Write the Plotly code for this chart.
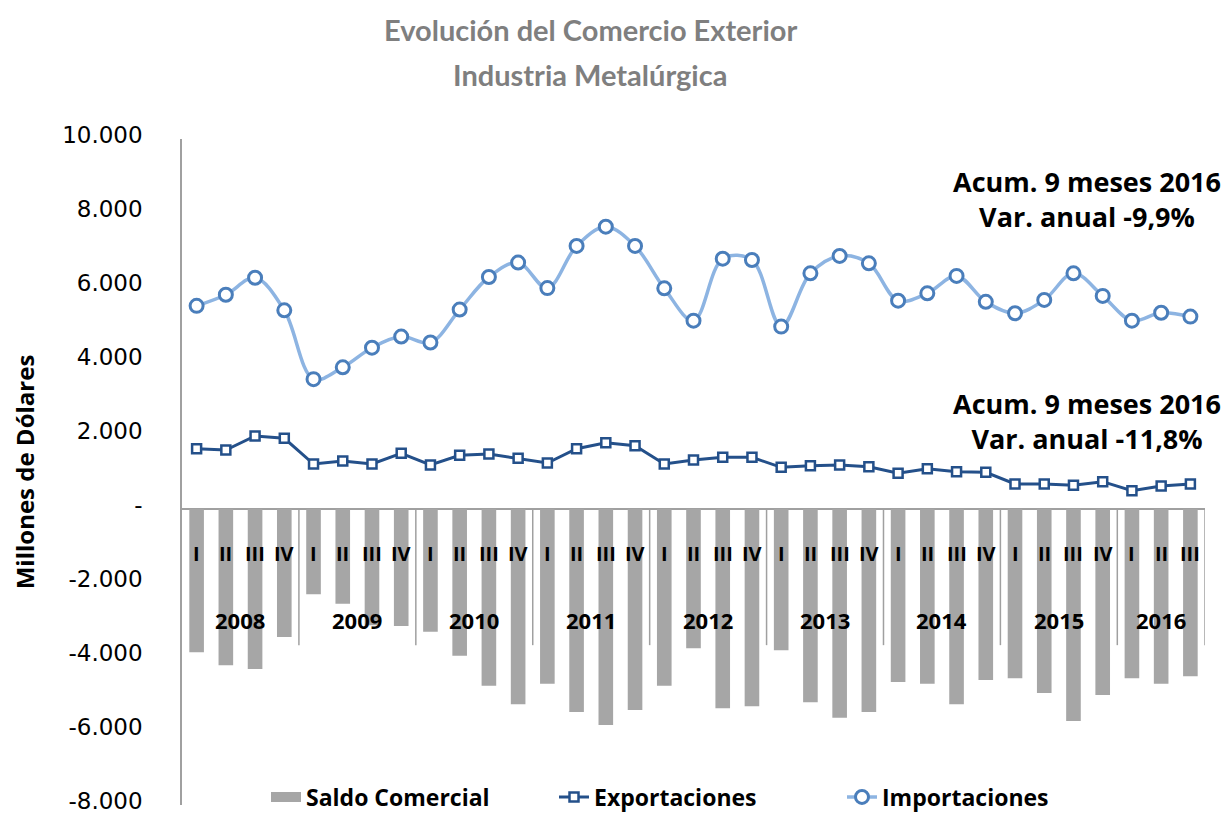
import plotly.graph_objects as go

years = ["2008", "2009", "2010", "2011", "2012", "2013", "2014", "2015", "2016"]
quarters = ["I", "II", "III", "IV"]
n_quarters_last = 3

importaciones = [5490, 5790, 6250, 5370, 3510, 3830, 4360, 4660, 4500, 5390, 6270, 6660,
                 5970, 7110, 7630, 7110, 5965, 5090, 6765, 6730, 4930, 6370, 6840, 6640,
                 5630, 5830, 6300, 5600, 5290, 5650, 6370, 5760, 5090, 5305, 5200]
exportaciones = [1630, 1595, 1973, 1910, 1216, 1297, 1216, 1505, 1190, 1450, 1486, 1370,
                 1243, 1630, 1792, 1711, 1216, 1324, 1396, 1396, 1126, 1171, 1190, 1144,
                 964, 1090, 1009, 991, 676, 676, 640, 739, 495, 622, 676]
saldo = [-3874, -4225, -4324, -3460, -2306, -2559, -3144, -3160, -3315, -3964, -4775, -5280,
         -4720, -5486, -5838, -5432, -4775, -3766, -5387, -5333, -3820, -5225, -5640, -5486,
         -4676, -4720, -5280, -4621, -4577, -4973, -5730, -5027, -4577, -4720, -4522]

y_ticks = [-8000, -6000, -4000, -2000, 0, 2000, 4000, 6000, 8000, 10000]
y_ticktext = ["-8.000", "-6.000", "-4.000", "-2.000", "-", "2.000", "4.000", "6.000", "8.000", "10.000"]

title_lines = ["Evolución del Comercio Exterior", "Industria Metalúrgica"]
note_imp = ["Acum. 9 meses 2016", "Var. anual -9,9%"]
note_exp = ["Acum. 9 meses 2016", "Var. anual -11,8%"]

# category positions
labels_q = []
labels_y = []
for yi, yr in enumerate(years):
    nq = 4 if yi < len(years) - 1 else n_quarters_last
    for q in quarters[:nq]:
        labels_q.append(q)
        labels_y.append(yr)
xs = list(range(len(labels_q)))

# layout geometry: the page body has an 8px margin, so the figure starts at (8, 8)
OFF = 8
W, H = 1232 - OFF, 817 - OFF
ML, MT = 182 - OFF, 139 - OFF
PR, PB = 1205 - OFF, 805 - OFF
MR, MB = W - PR, H - PB
PW, PH = PR - ML, PB - MT


def py2paper(py):
    return (PB - (py - OFF)) / PH


def px2paper(px):
    return ((px - OFF) - ML) / PW


FT = "Lato"
FB = "Open Sans"
GRAY = "#A6A6A6"
fig = go.Figure()
fig.add_trace(go.Bar(x=xs, y=saldo, name="Saldo Comercial", showlegend=False,
                     marker=dict(color=GRAY, line=dict(width=0))))
# legend swatch for the bars (wide rectangle like the original)
fig.add_trace(go.Scatter(x=[None], y=[None], name="Saldo Comercial", mode="lines",
                         line=dict(color=GRAY, width=14)))
fig.add_trace(go.Scatter(x=xs, y=exportaciones, name="Exportaciones", mode="lines+markers",
                         line=dict(color="#24508A", width=3),
                         marker=dict(symbol="square", size=9, color="white",
                                     line=dict(color="#24508A", width=2.5))))
fig.add_trace(go.Scatter(x=xs, y=importaciones, name="Importaciones", mode="lines+markers",
                         line=dict(color="#8DB4E2", width=3.5, shape="spline", smoothing=1.0),
                         marker=dict(symbol="circle", size=13, color="white",
                                     line=dict(color="#4A7EBB", width=3))))

annotations = []
for x, q in zip(xs, labels_q):
    annotations.append(dict(x=x, y=-1190, xref="x", yref="y", text=q, showarrow=False,
                            font=dict(family=FB, size=20, color="black", weight="bold")))
shapes = []
start = 0
for yi, yr in enumerate(years):
    cnt = labels_y.count(yr)
    mid = start + (cnt - 1) / 2
    annotations.append(dict(x=mid, y=-3000, xref="x", yref="y", text=yr, showarrow=False,
                            font=dict(family=FB, size=22, color="black", weight="bold")))
    shapes.append(dict(type="line", xref="x", yref="y", x0=start + cnt - 0.5, x1=start + cnt - 0.5,
                       y0=0, y1=-3680, line=dict(color="#A0A0A0", width=1.5), layer="below"))
    start += cnt

for yv, lines in [(8380, note_imp), (2380, note_exp)]:
    annotations.append(dict(x=px2paper(1087), y=yv, xref="paper", yref="y", text="<br>".join(lines),
                            showarrow=False, align="center", xanchor="center", yanchor="middle",
                            font=dict(family=FB, size=27, color="black", weight="bold")))

for py, txt in zip([29, 75], title_lines):
    annotations.append(dict(x=px2paper(590), y=py2paper(py), xref="paper", yref="paper",
                            xanchor="center", yanchor="middle", text=txt, showarrow=False,
                            font=dict(family=FT, size=29, color="#7F7F7F", weight="bold")))

fig.update_layout(
    width=W, height=H,
    margin=dict(l=ML, r=MR, t=MT, b=MB, autoexpand=False),
    paper_bgcolor="white", plot_bgcolor="white",
    bargap=0.5,
    showlegend=True,
    legend=dict(orientation="h", x=px2paper(266), xanchor="left", y=py2paper(797), yanchor="middle",
                font=dict(family=FB, size=23, color="black", weight="bold"),
                entrywidth=243, entrywidthmode="pixels",
                bgcolor="rgba(0,0,0,0)", traceorder="normal"),
    annotations=annotations,
    shapes=shapes,
    xaxis=dict(range=[-0.5, len(xs) - 0.5], showticklabels=False, showgrid=False,
               zeroline=False, showline=False, ticks="", automargin=False),
    yaxis=dict(range=[-8000, 10000], tickvals=y_ticks, ticktext=y_ticktext, showgrid=False,
               zeroline=True, zerolinecolor="#A0A0A0", zerolinewidth=1.5,
               showline=True, linecolor="#A0A0A0", linewidth=1.5, ticks="",
               ticklabelstandoff=33, automargin=False, ticklabeloverflow="allow",
               ticklabelshift=-4,
               tickfont=dict(family="DejaVu Sans", size=23, color="black"),
               title=dict(text="Millones de Dólares", standoff=22,
                          font=dict(family=FB, size=24, color="black", weight="bold"))),
)
fig.write_html("out.html")
